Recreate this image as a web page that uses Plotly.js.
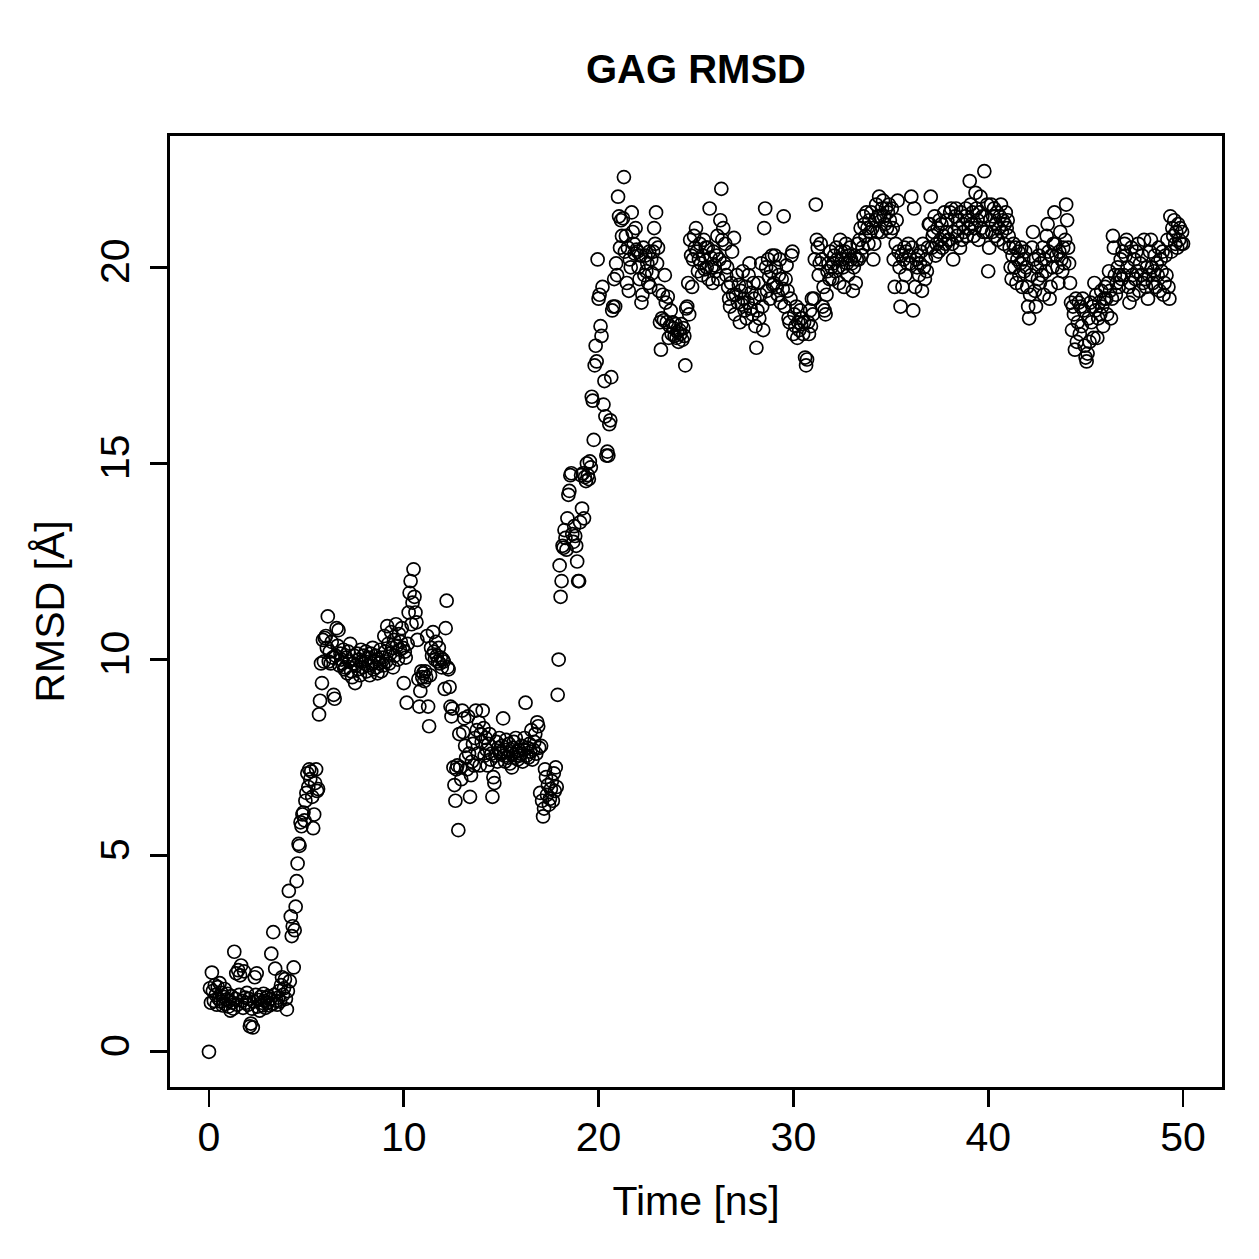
<!DOCTYPE html>
<html>
<head>
<meta charset="utf-8">
<script src="https://cdn.plot.ly/plotly-3.0.1.min.js"></script>
<style>html,body{margin:0;padding:0;background:#fff;}#chart{width:1259px;height:1259px;}</style>
</head>
<body>
<div id="chart"></div>
<script>
// Time step between frames (ns)
const timeStep = 0.05;

// RMSD values (Å), one per frame
const rmsd_00_10 = [
0.00,1.62,1.25,2.02,1.55,1.30,1.70,1.45,1.20,1.65,1.35,1.75,1.28,1.50,1.18,1.40,1.60,1.22,1.33,1.48,
1.15,1.30,1.05,1.42,1.25,1.10,2.55,1.35,2.00,1.20,2.08,1.45,1.95,2.20,1.30,1.12,2.05,1.38,1.25,1.50,
1.20,1.35,0.65,0.72,1.10,0.62,1.28,1.90,1.45,2.00,1.15,1.32,1.05,1.40,1.25,1.18,1.48,1.30,1.12,1.38,
1.25,1.42,1.18,1.35,2.50,1.22,3.05,1.45,2.12,1.30,1.20,1.38,1.55,1.28,1.70,1.90,1.45,1.62,1.85,1.35,
1.08,1.55,4.10,1.80,3.45,2.95,3.20,2.15,3.10,3.70,4.35,4.80,5.30,5.25,5.85,5.75,6.05,6.10,5.90,6.40,
6.60,7.10,6.75,7.20,6.95,7.15,6.50,5.70,6.05,6.85,7.20,6.65,6.70,8.60,8.95,9.90,9.40,10.50,9.95,10.55,
10.60,10.30,11.10,9.95,10.20,9.90,10.45,10.05,9.10,9.00,10.10,10.80,10.35,10.75,9.85,10.15,10.00,9.90,10.25,9.75,
9.80,10.05,9.65,10.20,9.95,10.40,9.70,9.55,9.90,10.10,9.40,9.85,10.15,9.75,10.00,9.60,10.25,9.95,9.80,10.10,
9.95,10.20,9.70,9.85,10.05,9.60,10.15,9.90,10.30,9.75,9.95,10.10,9.80,9.65,10.00,9.90,10.25,9.70,10.05,9.85,
10.60,10.20,9.95,10.85,10.40,9.90,10.15,10.70,10.30,9.80,10.50,10.10,10.90,10.35,10.00,10.65,10.25,10.45,10.80,10.30
];
const rmsd_10_20 = [
9.40,10.20,10.05,8.90,10.40,11.20,11.70,12.00,10.90,11.45,12.30,11.60,11.20,10.95,10.50,9.50,8.80,9.20,9.70,9.55,
9.65,9.45,9.70,9.55,10.60,8.80,8.30,9.60,10.30,10.10,10.70,10.20,10.00,10.45,10.10,9.95,10.30,9.90,10.05,9.80,
10.00,9.95,9.25,10.80,11.50,9.80,9.75,9.30,8.80,8.55,8.75,7.25,6.80,6.40,7.20,7.30,5.65,8.10,7.25,6.95,
8.70,8.15,8.50,7.80,7.50,7.20,8.55,7.60,6.50,7.05,7.40,7.85,7.30,8.00,8.70,8.20,7.60,8.40,7.30,8.10,
7.90,8.70,8.25,7.55,8.00,7.70,7.30,7.85,8.10,7.45,7.60,6.50,7.00,6.85,7.55,7.90,7.40,7.75,8.00,7.60,
7.65,7.80,8.50,7.55,7.40,7.95,7.70,7.50,7.85,7.35,7.60,7.25,7.75,7.90,7.50,8.00,7.65,7.45,7.70,7.55,
7.60,7.80,7.40,7.70,8.00,8.90,7.55,7.75,7.50,7.85,7.65,8.20,7.45,7.70,7.90,8.10,7.60,8.40,8.30,7.75,
6.60,7.80,6.40,6.00,6.20,7.20,7.00,6.55,6.80,6.30,6.45,6.70,6.90,6.40,7.10,6.65,7.25,6.75,9.10,10.00,
12.40,11.60,12.00,12.90,12.85,13.30,13.10,12.80,13.60,14.20,14.30,14.70,14.75,13.20,13.00,13.40,13.15,12.90,12.50,12.00,
12.00,13.50,14.70,13.85,14.75,13.60,14.65,14.55,15.00,14.70,14.60,15.05,14.90,16.70,16.60,15.60,17.50,18.00,17.60,20.20
];
const rmsd_20_30 = [
19.20,19.30,18.50,18.25,19.50,16.50,17.10,16.20,15.20,15.30,15.20,16.00,16.10,17.20,18.90,19.00,19.70,19.00,20.10,19.80,
21.80,21.30,20.50,21.20,20.80,21.25,22.30,20.40,20.80,19.60,20.50,19.40,20.20,20.00,21.40,20.90,20.60,20.35,21.00,20.45,
20.40,20.00,19.70,20.30,19.10,19.30,20.50,19.80,20.30,19.90,20.10,19.60,20.40,19.50,20.20,19.85,20.40,21.00,20.60,21.40,
20.10,20.50,19.40,18.60,17.90,18.70,19.30,18.65,19.80,19.10,18.60,19.25,18.20,18.50,18.90,18.30,18.60,18.45,18.25,18.55,
18.20,18.35,18.10,18.40,18.30,18.55,18.15,18.45,18.25,17.50,18.95,19.00,19.60,18.80,20.70,20.30,19.50,20.20,20.80,20.50,
21.00,20.40,19.90,20.20,20.60,20.10,19.80,20.30,20.70,19.95,20.50,20.00,20.50,19.70,21.50,20.25,20.00,19.60,20.40,20.05,
19.90,20.30,20.80,19.70,20.20,21.20,22.00,20.70,21.00,20.10,20.60,19.80,20.00,19.50,19.20,19.00,19.60,20.40,19.30,20.75,
18.80,19.30,19.80,19.10,19.55,18.60,19.40,19.05,19.90,19.20,18.90,19.50,18.70,19.10,19.80,20.10,18.95,19.35,18.80,19.60,
19.20,18.50,17.95,18.90,19.60,18.70,19.30,20.10,19.00,18.40,21.00,21.50,20.00,19.40,20.20,19.75,19.20,19.90,20.30,19.55,
19.60,20.30,20.00,19.50,19.30,19.80,20.20,19.10,19.70,19.45,21.30,19.00,19.70,20.05,19.40,18.70,18.60,19.20,20.30,20.40
];
const rmsd_30_40 = [
18.30,18.80,18.50,19.00,18.20,18.60,18.40,18.90,18.55,18.70,18.30,18.60,17.70,17.50,17.65,18.60,18.30,18.90,18.50,19.20,
18.80,19.20,20.20,21.60,20.70,20.50,19.80,20.10,20.60,20.20,19.00,19.50,18.90,18.80,19.30,19.90,20.10,19.70,20.40,20.00,
19.70,20.10,20.30,19.90,20.50,20.20,20.00,19.60,20.70,20.40,20.20,20.00,19.50,20.40,20.60,20.10,19.80,20.30,20.50,20.20,
20.10,19.40,20.00,20.30,19.60,20.20,20.60,20.20,20.70,21.00,20.30,20.50,21.30,21.10,20.80,21.40,21.00,20.60,21.20,20.90,
21.40,21.00,20.20,20.60,21.20,21.60,20.90,21.30,21.80,21.30,20.90,21.50,21.70,21.30,21.10,21.50,21.00,21.40,21.60,21.20,
20.90,21.50,21.00,20.20,19.50,20.60,21.20,21.70,20.40,20.00,19.00,20.30,19.50,20.20,20.50,19.80,20.40,20.10,20.60,20.30,
20.10,21.80,20.50,18.90,21.50,19.50,20.20,20.00,20.30,19.80,20.10,20.40,19.40,20.60,20.00,19.70,20.20,19.90,20.50,21.10,
21.10,21.80,20.50,20.80,20.90,21.30,20.30,20.60,21.00,20.40,21.20,20.70,21.10,20.50,20.80,21.40,20.60,20.90,21.20,20.70,
20.70,21.40,21.50,20.60,20.20,20.90,21.30,21.50,20.80,21.20,21.00,20.50,21.40,20.70,21.10,20.90,21.30,21.50,20.80,21.20,
21.00,22.20,21.60,21.10,21.40,20.80,21.00,21.90,21.50,21.20,20.70,21.40,21.80,21.00,21.30,20.90,22.45,21.30,20.90,21.60
];
const rmsd_40_50 = [
19.90,20.50,21.20,21.60,20.90,21.30,21.50,20.80,21.10,21.40,20.70,21.00,21.30,21.60,20.90,21.20,20.60,21.10,21.40,21.00,
21.20,20.80,20.50,20.00,19.70,20.30,20.60,20.00,20.50,19.60,20.20,20.40,19.80,20.10,20.50,19.50,20.20,19.90,20.40,20.00,
19.50,19.00,18.70,19.30,19.80,20.50,20.90,20.20,19.40,19.00,20.00,19.70,20.30,19.60,20.10,19.80,20.50,19.30,20.20,19.90,
20.80,21.10,20.40,19.20,19.50,20.30,20.00,20.60,21.40,20.60,20.30,20.00,19.60,20.40,20.90,20.20,19.90,20.50,20.10,20.70,
21.60,21.20,20.50,20.10,19.60,19.10,18.40,19.00,18.80,17.90,19.20,18.10,18.60,19.10,18.30,19.00,18.50,19.20,18.90,18.00,
17.70,17.60,17.80,18.70,18.10,19.10,18.60,19.00,18.20,19.60,18.90,19.30,18.20,18.70,19.10,18.80,19.40,19.00,18.50,19.20,
19.50,19.20,18.80,19.60,19.90,19.40,18.70,19.20,20.80,20.50,19.80,19.30,19.60,20.00,19.50,19.80,20.20,19.70,20.40,19.80,
20.60,20.30,20.70,20.00,19.50,19.10,19.60,20.50,19.80,19.30,20.20,19.70,20.40,19.90,20.60,19.40,20.10,19.80,20.30,19.60,
20.70,19.70,19.50,20.00,19.20,19.80,20.40,20.70,20.00,19.60,19.90,20.30,19.50,20.10,19.80,20.50,19.40,20.20,19.90,20.40,
19.30,19.60,20.30,19.80,20.70,19.50,19.20,21.30,20.40,21.00,20.80,21.20,20.60,20.90,20.50,21.10,20.70,21.00,20.60,20.90,
20.60
];

const xTicks = [0, 10, 20, 30, 40, 50];
const yTicks = [0, 5, 10, 15, 20];
const titleText = "GAG RMSD";
const xLabel = "Time [ns]";
const yLabel = "RMSD [Å]";

const rmsd = [].concat(rmsd_00_10, rmsd_10_20, rmsd_20_30, rmsd_30_40, rmsd_40_50);
const time = rmsd.map((_, i) => +(i * timeStep).toFixed(2));

// R-style 4% axis extension
const xmin = Math.min(...time), xmax = Math.max(...time);
const ymin = Math.min(...rmsd), ymax = Math.max(...rmsd);
const xpad = (xmax - xmin) * 0.04, ypad = (ymax - ymin) * 0.04;

const FONT = "Liberation Sans, Arial, Helvetica, sans-serif";

const trace = {
  x: time, y: rmsd, type: "scatter", mode: "markers",
  marker: {symbol: "circle-open", size: 13, color: "#000", line: {width: 1.7, color: "#000"}},
  hoverinfo: "skip"
};

const axisCommon = {
  showgrid: false, zeroline: false, showline: true, mirror: true,
  linecolor: "#000", linewidth: 2.6,
  ticks: "outside", ticklen: 17, tickwidth: 2.6, tickcolor: "#000",
  tickfont: {family: FONT, size: 41, color: "#000"},
  automargin: false
};

const layout = {
  width: 1259, height: 1259,
  paper_bgcolor: "#fff", plot_bgcolor: "#fff",
  margin: {l: 170, r: 37, t: 136, b: 172, pad: 0},
  showlegend: false,
  font: {family: FONT, color: "#000"},
  title: {
    text: "<b>" + titleText + "</b>",
    font: {family: FONT, size: 40, color: "#000"},
    x: 0.5, xref: "paper", xanchor: "center",
    y: 1 - 69 / 1259, yref: "container", yanchor: "middle"
  },
  xaxis: Object.assign({}, axisCommon, {
    range: [xmin - xpad, xmax + xpad],
    tickmode: "array", tickvals: xTicks, ticktext: xTicks.map(String),
    ticklabelstandoff: -5,
    title: {text: xLabel, font: {family: FONT, size: 41, color: "#000"}, standoff: 28}
  }),
  yaxis: Object.assign({}, axisCommon, {
    range: [ymin - ypad, ymax + ypad],
    tickmode: "array", tickvals: yTicks, ticktext: yTicks.map(String),
    tickangle: -90,
    ticklabelstandoff: 5,
    title: {text: yLabel, font: {family: FONT, size: 41, color: "#000"}, standoff: 15}
  })
};

Plotly.newPlot("chart", [trace], layout, {staticPlot: true, displayModeBar: false});
</script>
</body>
</html>
